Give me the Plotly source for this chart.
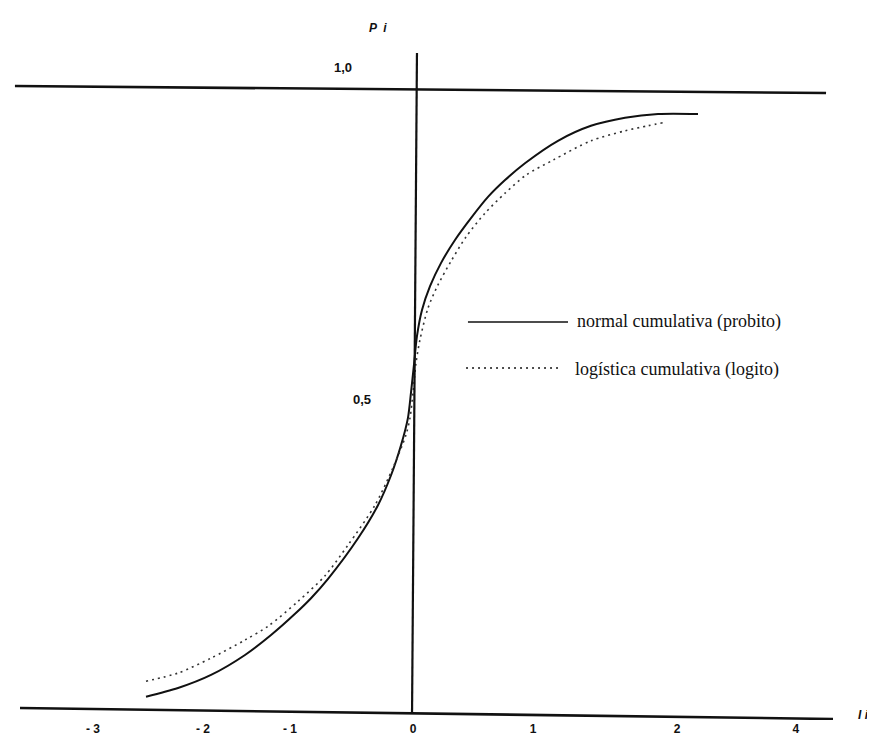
import plotly.graph_objects as go

# ---------------- data ----------------
# x in chart units (0 = vertical axis), y = P i (probability)
normal_x = [-2.225, -1.958, -1.683, -1.400, -1.183, -0.983, -0.850, -0.708, -0.458,
            -0.292, -0.183, -0.100, -0.042, -0.017, 0.008, 0.033, 0.075, 0.142,
            0.233, 0.350, 0.483, 0.625, 0.767, 0.933, 1.208, 1.483, 1.767, 2.042, 2.375]
normal_y = [0.026, 0.040, 0.061, 0.093, 0.125, 0.159, 0.184, 0.215, 0.280,
            0.333, 0.381, 0.429, 0.473, 0.513, 0.558, 0.604, 0.646, 0.684,
            0.721, 0.758, 0.793, 0.827, 0.854, 0.881, 0.917, 0.941, 0.954, 0.960, 0.960]

logistic_x = [-2.225, -1.958, -1.683, -1.400, -1.208, -0.958, -0.733, -0.542, -0.317,
              -0.167, -0.058, -0.025, 0.000, 0.025, 0.058, 0.125, 0.208, 0.317,
              0.442, 0.600, 0.767, 0.942, 1.167, 1.483, 1.767, 1.958, 2.083]
logistic_y = [0.051, 0.064, 0.088, 0.117, 0.139, 0.179, 0.220, 0.269, 0.333,
              0.393, 0.446, 0.473, 0.513, 0.561, 0.598, 0.649, 0.686, 0.724,
              0.763, 0.801, 0.833, 0.862, 0.886, 0.917, 0.933, 0.941, 0.946]

series_names = ["normal cumulativa (probito)", "logística cumulativa (logito)"]

x_tick_positions = [-2.667, -1.75, -1.025, 0.0, 1.0, 2.2, 3.19]
x_tick_labels = ["- 3", "- 2", "- 1", "0", "1", "2", "4"]

y_labels = ["1,0", "0,5"]
y_label_x = [-0.583, -0.425]
y_label_y = [1.034, 0.502]

# ---------------- figure ----------------
INK = "#111111"
fig = go.Figure()

fig.add_trace(go.Scatter(x=normal_x, y=normal_y, mode="lines", name=series_names[0],
                         line=dict(color=INK, width=2, shape="spline", smoothing=0.8),
                         showlegend=False, hoverinfo="skip"))
fig.add_trace(go.Scatter(x=logistic_x, y=logistic_y, mode="lines", name=series_names[1],
                         line=dict(color="#333333", width=1.6, dash="2px,4px",
                                   shape="spline", smoothing=0.8),
                         showlegend=False, hoverinfo="skip"))

# axes drawn as in the scanned figure (slightly skewed)
axis_lines = [
    dict(x0=-3.317, y0=1.0048, x1=3.442, y1=0.9936, w=2.6),   # P = 1 line
    dict(x0=-3.275, y0=0.008, x1=3.50, y1=-0.0096, w=2.6),    # P = 0 line (x axis)
    dict(x0=0.033, y0=1.0577, x1=-0.008, y1=-0.0016, w=2.2),  # vertical axis
]
for a in axis_lines:
    fig.add_shape(type="line", xref="x", yref="y", x0=a["x0"], y0=a["y0"],
                  x1=a["x1"], y1=a["y1"], line=dict(color=INK, width=a["w"]))

# hand-made legend
legend_items = [
    dict(x0=0.458, x1=1.292, y=0.6266, dash="solid", w=1.6, tx=1.35, ty=0.628),
    dict(x0=0.442, x1=1.233, y=0.5529, dash="2px,4px", w=1.4, tx=1.333, ty=0.5497),
]
for name, it in zip(series_names, legend_items):
    fig.add_shape(type="line", xref="x", yref="y", x0=it["x0"], x1=it["x1"],
                  y0=it["y"], y1=it["y"],
                  line=dict(color=INK, width=it["w"], dash=it["dash"]))
    fig.add_annotation(x=it["tx"], y=it["ty"], xref="x", yref="y", text=name,
                       showarrow=False, xanchor="left", yanchor="middle",
                       font=dict(family="Liberation Serif", size=18, color=INK))

for t, lx, ly in zip(y_labels, y_label_x, y_label_y):
    fig.add_annotation(x=lx, y=ly, xref="x", yref="y", text=t, showarrow=False,
                       xanchor="center", yanchor="middle",
                       font=dict(family="Liberation Sans", size=13, color=INK, weight="bold"))

fig.add_annotation(x=-0.292, y=1.0978, xref="x", yref="y", text="<i>P  i</i>",
                   showarrow=False, xanchor="center", yanchor="middle",
                   font=dict(family="Liberation Sans", size=12, color=INK, weight="bold"))
fig.add_annotation(x=3.758, y=-0.0032, xref="x", yref="y", text="<i>I i</i>",
                   showarrow=False, xanchor="center", yanchor="middle",
                   font=dict(family="Liberation Sans", size=12, color=INK, weight="bold"))

fig.update_layout(
    width=875, height=736,
    margin=dict(l=0, r=0, t=0, b=24),
    paper_bgcolor="white", plot_bgcolor="white",
    showlegend=False,
    xaxis=dict(range=[-3.375, 3.9167], showgrid=False, zeroline=False, showline=False,
               ticks="", tickvals=x_tick_positions, ticktext=x_tick_labels,
               tickfont=dict(family="Liberation Sans", size=12, color=INK, weight="bold"),
               fixedrange=True),
    yaxis=dict(range=[-0.0112, 1.1298], visible=False, fixedrange=True),
)

fig.write_html("out.html")
